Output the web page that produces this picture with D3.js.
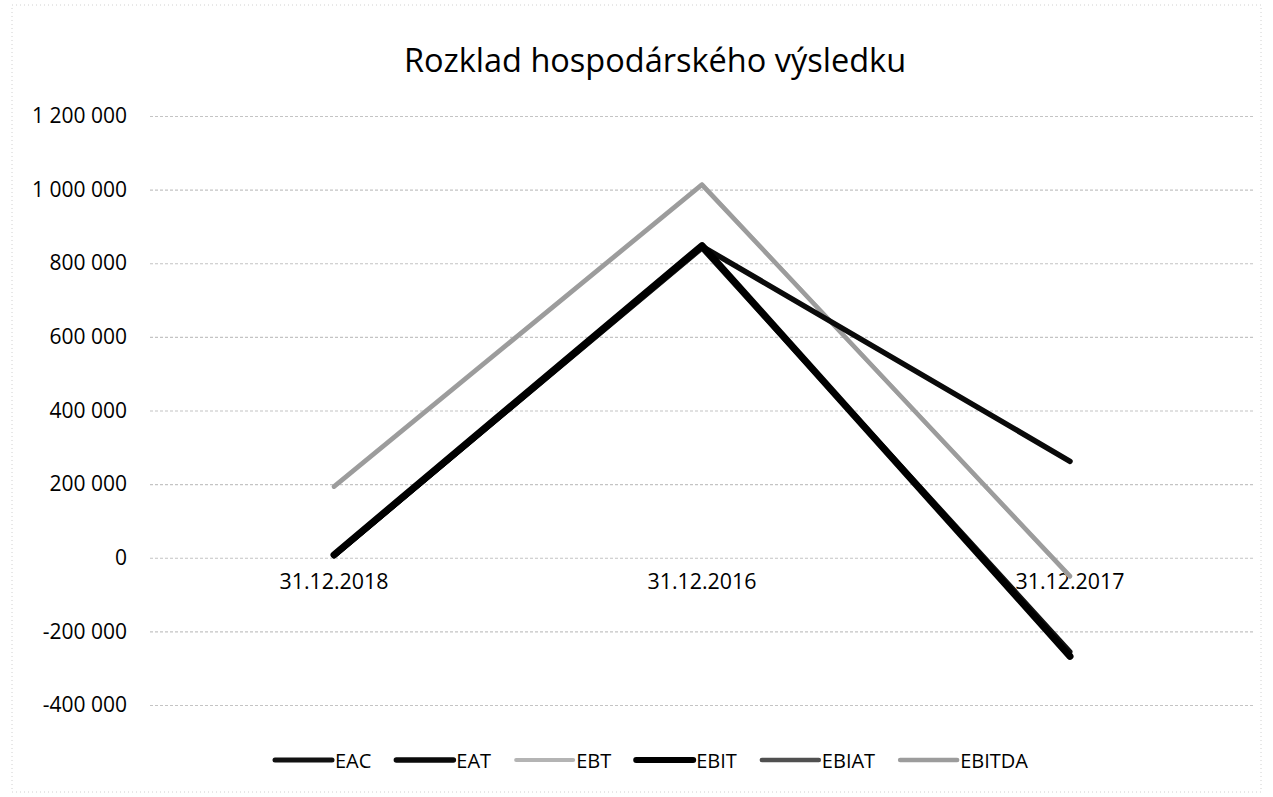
<!DOCTYPE html>
<html lang="cs">
<head>
<meta charset="utf-8">
<script src="https://d3js.org/d3.v7.min.js"></script>
<style>
  body { margin: 0; background: #fff; }
  text { font-family: "Open Sans", "Noto Sans", sans-serif; fill: #000; }
</style>
</head>
<body>
<script>
// data
const dates = ["31.12.2018", "31.12.2016", "31.12.2017"];
const seriesNames = ["EAC", "EAT", "EBT", "EBIT", "EBIAT", "EBITDA"];
const eac    = [5000, 842000, -255000];
const eat    = [6000, 846000, 262000];
const ebt    = [195000, 1015000, -52000];
const ebit   = [8000, 848000, -268000];
const ebiat  = [5000, 840000, -262000];
const ebitda = [193000, 1013000, -50000];
const yTicks = [-400000, -200000, 0, 200000, 400000, 600000, 800000, 1000000, 1200000];

const values = [eac, eat, ebt, ebit, ebiat, ebitda];
const colors = ["#111", "#0a0a0a", "#b4b4b4", "#000", "#505050", "#9c9c9c"];
const widths = [5, 5.5, 4, 7, 4.5, 4.5];

const W = 1273, H = 797;
const margin = {top: 116, right: 19, bottom: 92, left: 150};
const width = W - margin.left - margin.right;
const height = H - margin.top - margin.bottom;

const svg = d3.select("body").append("svg")
    .attr("width", W)
    .attr("height", H);

// chart frame
svg.append("rect")
    .attr("x", 12).attr("y", 5)
    .attr("width", W - 24).attr("height", H - 10)
    .attr("fill", "none")
    .attr("stroke", "#d0d0d0")
    .attr("stroke-dasharray", "1,3");

svg.append("text")
    .attr("x", 655).attr("y", 72)
    .attr("text-anchor", "middle")
    .style("font-size", "32.5px")
    .text("Rozklad hospodárského výsledku");

const g = svg.append("g")
    .attr("transform", "translate(" + margin.left + "," + margin.top + ")");

const x = d3.scaleBand()
    .domain(dates)
    .range([0, width]);

const y = d3.scaleLinear()
    .domain([-400000, 1200000])
    .range([height, 0]);

const fmt = function(d) {
  return d3.format(",")(d).replace(/,/g, " ").replace("−", "-");
};

// gridlines + y labels
const yAxis = g.append("g")
    .call(d3.axisLeft(y).tickValues(yTicks).tickSize(-width).tickFormat(fmt).tickPadding(23));
yAxis.select(".domain").remove();
yAxis.selectAll(".tick line")
    .attr("stroke", "#c4c4c4")
    .attr("stroke-width", 1.2)
    .attr("stroke-dasharray", "3,2");
yAxis.selectAll(".tick text")
    .style("font-size", "21px")
    .attr("fill", "#000");

// category labels just under zero line
const xAxis = g.append("g")
    .attr("transform", "translate(0," + y(0) + ")")
    .call(d3.axisBottom(x).tickSize(0).tickPadding(16));
xAxis.select(".domain").remove();
xAxis.selectAll(".tick text")
    .style("font-size", "21.4px")
    .attr("fill", "#000");

const line = d3.line()
    .x(function(d, i) { return x(dates[i]) + x.bandwidth() / 2; })
    .y(function(d) { return y(d); });

const order = [2, 5, 4, 0, 1, 3];
order.forEach(function(k) {
  g.append("path")
      .datum(values[k])
      .attr("d", line)
      .attr("fill", "none")
      .attr("stroke", colors[k])
      .attr("stroke-width", widths[k])
      .attr("stroke-linejoin", "round")
      .attr("stroke-linecap", "round");
});

// legend
const legend = svg.append("g").attr("transform", "translate(0,760)");
let lx = 275;
seriesNames.forEach(function(name, k) {
  legend.append("line")
      .attr("x1", lx).attr("x2", lx + 57)
      .attr("y1", 0).attr("y2", 0)
      .attr("stroke", colors[k])
      .attr("stroke-width", Math.min(widths[k], 6))
      .attr("stroke-linecap", "round");
  const t = legend.append("text")
      .attr("x", lx + 60).attr("y", 8)
      .style("font-size", "20px")
      .text(name);
  lx += 60 + t.node().getComputedTextLength() + 25;
});
</script>
</body>
</html>
